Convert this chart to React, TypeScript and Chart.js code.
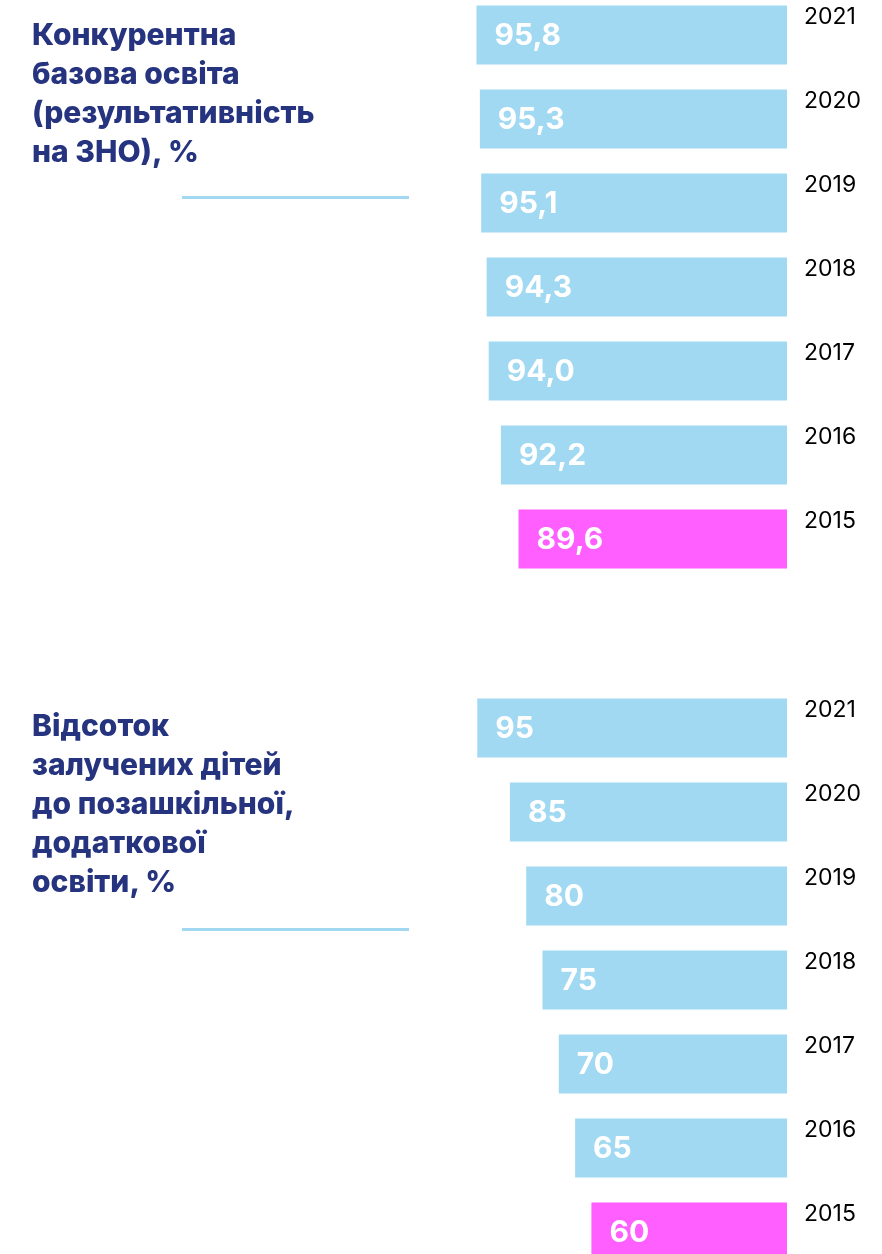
import React, { useEffect, useRef } from 'react';
import { Chart, registerables } from 'chart.js';

Chart.register(...registerables);

// ---- data ----
const years = ['2021', '2020', '2019', '2018', '2017', '2016', '2015'];
const znoValues = [95.8, 95.3, 95.1, 94.3, 94.0, 92.2, 89.6];
const extraEduValues = [95, 85, 80, 75, 70, 65, 60];
const znoTitle = ['Конкурентна', 'базова освіта', '(результативність', 'на ЗНО), %'];
const extraTitle = ['Відсоток', 'залучених дітей', 'до позашкільної,', 'додаткової', 'освіти, %'];
const highlightYear = '2015';

// ---- styles ----
const BLUE = '#A1D9F2';
const PINK = '#FF5FFF';
const NAVY = '#26347F';
const FONT = 'Inter, "Noto Sans", sans-serif';

function valueLabelPlugin(decimals: number) {
  return {
    id: 'valueLabels',
    afterDatasetsDraw(chart: any) {
      const ctx = chart.ctx;
      const meta = chart.getDatasetMeta(0);
      const data = chart.data.datasets[0].data as number[];
      ctx.save();
      ctx.fillStyle = '#FFFFFF';
      ctx.font = `700 30px ${FONT}`;
      ctx.textAlign = 'left';
      ctx.textBaseline = 'middle';
      meta.data.forEach((el: any, i: number) => {
        const left = Math.min(el.x, el.base);
        const txt = data[i].toFixed(decimals).replace('.', ',');
        ctx.fillText(txt, left + 18, el.y + 1);
      });
      ctx.restore();
    },
  };
}

type PanelProps = {
  values: number[];
  decimals: number;
  min: number;
  max: number;
  padLeft: number;
  top: number;
};

function BarPanel({ values, decimals, min, max, padLeft, top }: PanelProps) {
  const ref = useRef<HTMLCanvasElement>(null);
  useEffect(() => {
    const chart = new Chart(ref.current as HTMLCanvasElement, {
      type: 'bar',
      data: {
        labels: years,
        datasets: [
          {
            data: values,
            backgroundColor: years.map((y) => (y === highlightYear ? PINK : BLUE)),
            borderWidth: 0,
            barPercentage: 0.702,
            categoryPercentage: 1,
          },
        ],
      },
      options: {
        indexAxis: 'y',
        responsive: false,
        maintainAspectRatio: false,
        animation: false,
        layout: { padding: { left: padLeft, right: 0, top: 0, bottom: 0 } },
        plugins: { legend: { display: false }, tooltip: { enabled: false } },
        scales: {
          x: { display: false, reverse: true, min, max },
          y: {
            position: 'right',
            grid: { display: false, drawTicks: false },
            border: { display: false },
            ticks: {
              padding: 17,
              labelOffset: -18,
              color: '#000000',
              font: { family: FONT, size: 23, weight: 400 as any },
            },
            afterFit: (s: any) => {
              s.width = 95;
              s.paddingTop = 0;
              s.paddingBottom = 0;
            },
          },
        },
      } as any,
      plugins: [valueLabelPlugin(decimals)],
    });
    return () => chart.destroy();
  }, []);
  return (
    <canvas
      ref={ref}
      width={882}
      height={588}
      style={{ position: 'absolute', left: 0, top, width: 882, height: 588 }}
    />
  );
}

function Title({ lines, top }: { lines: string[]; top: number }) {
  return (
    <div
      style={{
        position: 'absolute',
        left: 32,
        top,
        fontFamily: FONT,
        fontWeight: 800,
        fontSize: 30,
        lineHeight: '39px',
        color: NAVY,
        whiteSpace: 'nowrap',
      }}
    >
      {lines.map((l, i) => (
        <div key={i}>{l}</div>
      ))}
    </div>
  );
}

function Divider({ top }: { top: number }) {
  return (
    <div
      style={{ position: 'absolute', left: 182, top, width: 227, height: 3, background: BLUE }}
    />
  );
}

export default function App() {
  return (
    <div
      style={{
        position: 'absolute',
        left: 0,
        top: 0,
        width: 882,
        height: 1254,
        overflow: 'hidden',
        background: '#FFFFFF',
      }}
    >
      <BarPanel values={znoValues} decimals={1} min={50} max={100} padLeft={448} top={-7} />
      <BarPanel values={extraEduValues} decimals={0} min={0} max={100} padLeft={461} top={686} />
      <Title lines={znoTitle} top={15} />
      <Divider top={196} />
      <Title lines={extraTitle} top={706} />
      <Divider top={928} />
    </div>
  );
}
